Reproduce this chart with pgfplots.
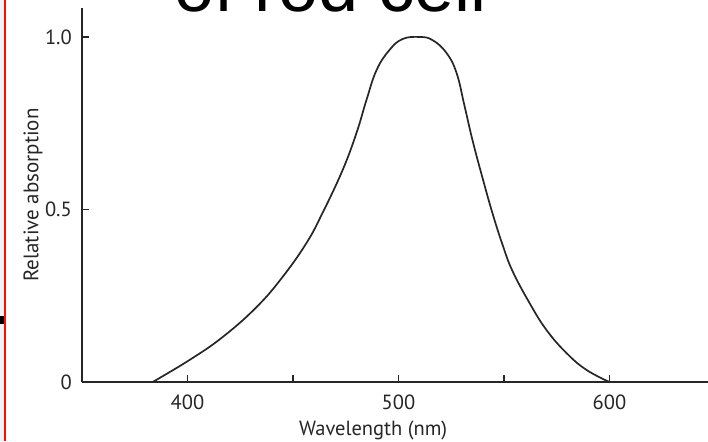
\documentclass[border=0pt]{standalone}
\usepackage{pgfplots}
\pgfplotsset{compat=1.18}
\usepackage{fontspec}
\setmainfont{PT Sans}
\newfontfamily\titlefont{Liberation Sans}

% Absorption spectrum of rhodopsin (relative units)
\pgfplotstableread{
wl    abs
383.5 0.000
401.0 0.064
416.6 0.130
432.7 0.217
445.0 0.304
456.4 0.403
464.0 0.490
473.5 0.614
480.1 0.722
484.8 0.817
489.6 0.904
495.7 0.962
501.9 0.994
510.0 1.000
516.1 0.991
522.7 0.954
527.5 0.896
531.3 0.800
535.1 0.700
539.8 0.592
544.5 0.490
549.3 0.398
554.0 0.322
562.1 0.229
570.1 0.151
579.6 0.084
589.1 0.035
600.0 0.000
}\spectrum

\begin{document}
\begin{tikzpicture}[x=1pt,y=1pt]
\useasboundingbox (0,0) rectangle (708,441);
\fill[white] (0,0) rectangle (708,441);
\fill[gray!10] (0,0) rectangle (4,441);
\fill[red!90!orange] (4,0) rectangle (6.2,441);
\fill[black] (0,117) rectangle (4,125);
\node[anchor=base west, inner sep=0,
      font=\titlefont\fontsize{72}{72}\selectfont] at (174,429) {of rod cell};
\begin{axis}[
  at={(82pt,59pt)}, anchor=south west,
  scale only axis, width=633pt, height=374pt,
  xmin=350, xmax=650, ymin=0, ymax=1.084,
  axis lines=left,
  axis line style={-, line width=1.7pt, black!85},
  tick align=inside,
  major tick length=7pt,
  tick style={line width=1.4pt, black!85},
  xtick={400,450,500,550,600},
  xticklabels={400,,500,,600},
  ytick={0,0.5,1.0},
  yticklabels={0,0.5,1.0},
  tick label style={font=\fontsize{20.5}{20.5}\selectfont, text=black!85},
  xticklabel style={anchor=base, yshift=-27pt},
  yticklabel style={anchor=east, inner sep=0pt, xshift=-10pt},
  xlabel={Wavelength (nm)},
  xlabel style={at={(axis description cs:0.46,0)}, anchor=base,
                yshift=-53pt, inner sep=0pt,
                font=\fontsize{20.5}{20.5}\selectfont, text=black!85},
  ylabel={Relative absorption},
  ylabel style={at={(axis description cs:-0.0774,0.5)}, anchor=center,
                rotate=0, inner sep=0pt,
                font=\fontsize{21}{21}\selectfont, text=black!85},
  clip=false,
]
\addplot[black!85, line width=1.7pt, smooth, tension=0.7]
  table[x=wl, y=abs] {\spectrum};
\end{axis}
\end{tikzpicture}
\end{document}
